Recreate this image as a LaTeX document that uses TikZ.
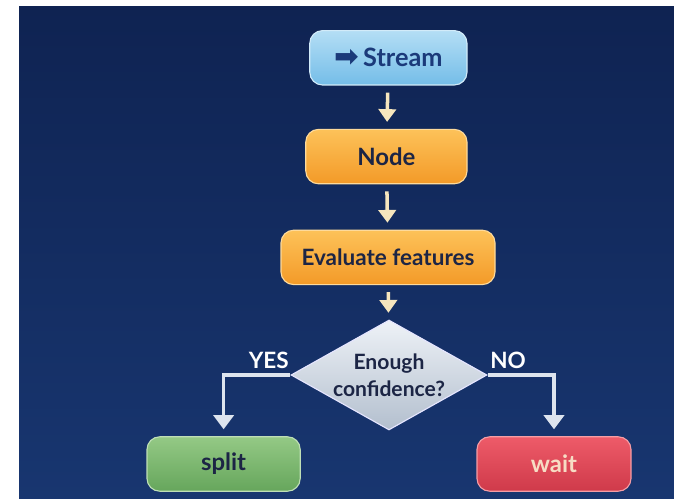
\documentclass[tikz,border=0pt]{standalone}
\usepackage{fontspec}
\setmainfont{Lato}
\newfontfamily\symbolfont{DejaVu Sans}
\usetikzlibrary{shapes.geometric,arrows.meta}

\definecolor{bg_top}{HTML}{0F2352}
\definecolor{bg_bottom}{HTML}{183670}
\definecolor{box_text}{HTML}{1C2545}
\definecolor{flow_arrow}{HTML}{F6E6BE}
\definecolor{branch_arrow}{HTML}{DDE4EE}
\definecolor{stream_top}{HTML}{B4DEF5}
\definecolor{stream_bottom}{HTML}{74BDE8}
\definecolor{stream_text}{HTML}{1B3A7A}
\definecolor{work_top}{HTML}{FDC259}
\definecolor{work_bottom}{HTML}{F39A28}
\definecolor{split_top}{HTML}{94C985}
\definecolor{split_bottom}{HTML}{66A65C}
\definecolor{wait_top}{HTML}{EE5B69}
\definecolor{wait_bottom}{HTML}{CF3A4A}
\definecolor{wait_text}{HTML}{F7DCC4}
\definecolor{decide_top}{HTML}{EEF2F7}
\definecolor{decide_bottom}{HTML}{B3BFCE}

\begin{document}
\begin{tikzpicture}[
		box_style/.style={rectangle,rounded corners=9pt,draw,line width=0.8pt,
			minimum height=1.36cm,text=box_text,font=\bfseries\fontsize{17}{20}\selectfont},
		stream_style/.style={box_style,top color=stream_top,bottom color=stream_bottom,
			draw=stream_top!60!white,text=stream_text,font=\bfseries\fontsize{18}{21}\selectfont},
		work_style/.style={box_style,top color=work_top,bottom color=work_bottom,draw=work_top!60!white},
		split_style/.style={box_style,top color=split_top,bottom color=split_bottom,draw=split_top!60!white},
		wait_style/.style={box_style,top color=wait_top,bottom color=wait_bottom,draw=wait_top!60!white,text=wait_text},
		decision_style/.style={diamond,aspect=1.78,inner sep=0pt,minimum width=4.9cm,minimum height=2.75cm,
			top color=decide_top,bottom color=decide_bottom,draw=white!90!blue,line width=0.8pt,
			text=box_text,font=\bfseries\fontsize{15}{19}\selectfont,align=center},
		edge_style/.style={draw,color=flow_arrow,line width=2.5pt,shorten <=5pt,shorten >=5pt,
			-{Triangle[width=13pt,length=9pt,line width=0pt]}},
		branch_style/.style={draw,color=branch_arrow,line width=2.5pt,shorten >=5pt,
			-{Triangle[width=15pt,length=10pt,line width=0pt]}},
		label_style/.style={text=white,font=\bfseries\fontsize{16}{18}\selectfont}]

	\useasboundingbox (0,0) rectangle (16.85,12.475);
	\shade[top color=bg_top,bottom color=bg_bottom] (0.475,0) rectangle (16.85,12.3);

	\node[stream_style,minimum width=3.93cm] (stream) at (9.71,11.03) {{\symbolfont\fontsize{21}{21}\selectfont ➡}\,Stream};
	\node[work_style,minimum width=4.03cm] (node) at (9.66,8.56) {Node};
	\node[work_style,minimum width=5.35cm,font=\bfseries\fontsize{16}{19}\selectfont] (eval) at (9.7,6.04) {Evaluate features};
	\node[decision_style] (decide) at (9.725,3.1) {Enough\\confidence?};
	\node[split_style,minimum width=3.83cm] (split) at (5.59,0.875) {split};
	\node[wait_style,minimum width=3.85cm] (wait) at (13.85,0.875) {wait};

	\node[label_style] (yes) at (6.72,3.47) {YES};
	\node[label_style] (no) at (12.7,3.47) {NO};

	\draw[edge_style] (stream) edge (node);
	\draw[edge_style] (node) edge (eval);
	\draw[edge_style] (eval) edge (decide);
	\draw[branch_style] (decide.west) -| (split);
	\draw[branch_style] (decide.east) -| (wait);
\end{tikzpicture}
\end{document}
